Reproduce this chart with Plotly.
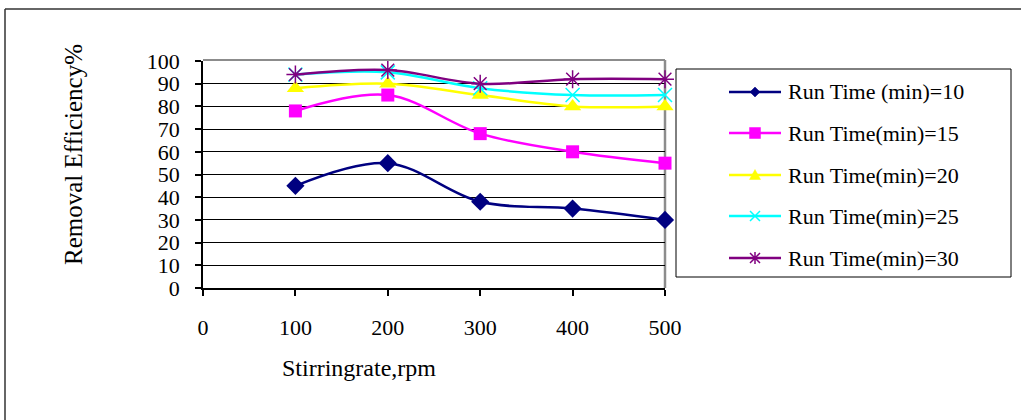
import plotly.graph_objects as go

# Stirring rate (rpm) and removal efficiency (%) for each run time
stirring_rate = [100, 200, 300, 400, 500]
eff_10 = [45, 55, 38, 35, 30]
eff_15 = [78, 85, 68, 60, 55]
eff_20 = [88, 90, 85, 80, 80]
eff_25 = [94, 95, 88, 85, 85]
eff_30 = [94, 96, 90, 92, 92]

series_names = [
    "Run Time (min)=10",
    "Run Time(min)=15",
    "Run Time(min)=20",
    "Run Time(min)=25",
    "Run Time(min)=30",
]
x_ticks = [0, 100, 200, 300, 400, 500]
y_ticks = list(range(0, 101, 10))

FONT = "Liberation Serif, Times New Roman, serif"

# legend key glyphs as pixel paths centred on (0, 0); y grows upward
KEY_PATHS = {
    "diamond": ("M0,5 L5,0 L0,-5 L-5,0 Z", True),
    "square": ("M-5.5,-5.5 L5.5,-5.5 L5.5,5.5 L-5.5,5.5 Z", True),
    "triangle-up": ("M-5.5,-4.5 L5.5,-4.5 L0,5.5 Z", True),
    "x-thin-open": ("M-5,-5 L5,5 M-5,5 L5,-5", False),
    "asterisk-open": ("M-5,-5 L5,5 M-5,5 L5,-5 M0,-6 L0,6", False),
}

styles = [
    dict(color="#000080", symbol="diamond", size=14, lw=0),
    dict(color="#FF00FF", symbol="square", size=13, lw=0),
    dict(color="#FFFF00", symbol="triangle-up", size=15, lw=0),
    dict(color="#00FFFF", symbol="x-thin-open", size=14, lw=1.5),
    dict(color="#800080", symbol="asterisk-open", size=15, lw=1.5),
]

W, H = 1021, 420
L, R, T, B = 203, 665, 61, 288          # plot area in pixels

# legend layout in pixels
LEG_BOX = (676, 69, 1011, 277)
LEG_ROWS = [92, 133, 175, 216, 258]
LEG_LINE = (729, 781)
LEG_TEXT_X = 786


def px(x):
    """pixel column -> paper x"""
    return (x - L) / (R - L)


def py(y):
    """pixel row -> paper y"""
    return (B - y) / (B - T)


fig = go.Figure()
all_vals = [eff_10, eff_15, eff_20, eff_25, eff_30]
for name, vals, st in zip(series_names, all_vals, styles):
    fig.add_trace(go.Scatter(
        x=stirring_rate, y=vals, name=name, mode="lines+markers",
        line=dict(color=st["color"], width=2.5, shape="spline", smoothing=1),
        marker=dict(color=st["color"], symbol=st["symbol"], size=st["size"],
                    line=dict(color=st["color"], width=st["lw"])),
        cliponaxis=False, showlegend=False,
    ))

# legend frame
fig.add_shape(type="rect", xref="paper", yref="paper",
              x0=px(LEG_BOX[0]), y0=py(LEG_BOX[1]), x1=px(LEG_BOX[2]), y1=py(LEG_BOX[3]),
              line=dict(color="black", width=1), fillcolor="white")

# legend keys and labels
for name, row, st in zip(series_names, LEG_ROWS, styles):
    fig.add_shape(type="line", xref="paper", yref="paper",
                  x0=px(LEG_LINE[0]), x1=px(LEG_LINE[1]), y0=py(row), y1=py(row),
                  line=dict(color=st["color"], width=2.5))
    path, filled = KEY_PATHS[st["symbol"]]
    fig.add_shape(type="path", path=path,
                  xref="paper", yref="paper", xsizemode="pixel", ysizemode="pixel",
                  xanchor=px((LEG_LINE[0] + LEG_LINE[1]) / 2), yanchor=py(row),
                  line=dict(color=st["color"], width=1.5 if not filled else 0.5),
                  fillcolor=st["color"] if filled else "rgba(0,0,0,0)")
    fig.add_annotation(text=name, xref="paper", yref="paper", x=px(LEG_TEXT_X), y=py(row),
                       xanchor="left", yanchor="middle", showarrow=False,
                       font=dict(family=FONT, size=22, color="black"))

fig.update_layout(
    width=W, height=H,
    margin=dict(l=L, r=W - R, t=T, b=H - B),
    paper_bgcolor="white", plot_bgcolor="rgba(0,0,0,0)",
    font=dict(family=FONT, size=22, color="black"),
    showlegend=False,
    xaxis=dict(
        range=[0, 500], tickvals=x_ticks, ticktext=[str(v) for v in x_ticks],
        showgrid=False, zeroline=False, showline=True, linecolor="black", linewidth=1.5,
        ticks="outside", ticklen=6, tickcolor="black", tickwidth=1.5,
        ticklabelstandoff=13, tickfont=dict(family=FONT, size=22),
    ),
    yaxis=dict(
        range=[0, 100], tickvals=y_ticks, ticktext=[str(v) for v in y_ticks],
        showgrid=True, gridcolor="black", gridwidth=1,
        zeroline=False, showline=True, linecolor="black", linewidth=1.5,
        ticks="outside", ticklen=6, tickcolor="black", tickwidth=1.5,
        ticklabelstandoff=11, tickfont=dict(family=FONT, size=22),
    ),
)

# grey plot-area border on the top and right, kept beneath the series
fig.add_shape(type="line", xref="paper", yref="paper", x0=0, x1=1, y0=py(T - 1), y1=py(T - 1),
              line=dict(color="#8c8c8c", width=2), layer="below")
fig.add_shape(type="line", xref="paper", yref="paper", x0=1, x1=1, y0=0, y1=py(T - 1),
              line=dict(color="#8c8c8c", width=2.5), layer="below")

# outer chart frame
fig.add_shape(type="line", xref="paper", yref="paper", x0=px(5), x1=px(W), y0=py(9), y1=py(9),
              line=dict(color="#333333", width=1.5))
fig.add_shape(type="line", xref="paper", yref="paper", x0=px(5), x1=px(5), y0=py(9), y1=py(H),
              line=dict(color="#333333", width=1.5))

# axis titles
fig.add_annotation(text="Stirringrate,rpm", xref="paper", yref="paper",
                   x=px(359), y=py(368), xanchor="center", yanchor="middle", showarrow=False,
                   font=dict(family=FONT, size=24, color="black"))
fig.add_annotation(text="Removal Efficiency%", xref="paper", yref="paper",
                   x=px(73), y=py(155), xanchor="center", yanchor="middle", showarrow=False,
                   textangle=-90, font=dict(family=FONT, size=25, color="black"))

fig.write_html("out.html")
